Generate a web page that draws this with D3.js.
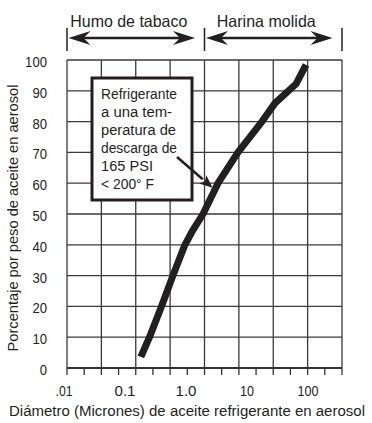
<!DOCTYPE html>
<html>
<head>
<meta charset="utf-8">
<script src="https://cdn.jsdelivr.net/npm/d3@7"></script>
<style>
  html, body { margin: 0; padding: 0; background: #fff; }
  svg { display: block; }
  text { font-family: "Liberation Sans", Arial, sans-serif; fill: #231f20; }
</style>
</head>
<body>
<svg id="chart" width="372" height="423"></svg>
<script>
// ---- data ----
const diameters = [0.182, 0.252, 0.396, 0.61, 0.96, 1.30, 1.90, 3.35, 7.1, 17.6, 28.8, 63.5, 92.7];
const percents  = [3.6, 10, 20, 30, 40, 44.8, 50, 60, 70, 80, 86.0, 92.2, 98.4];
const xTickValues = [0.01, 0.1, 1, 10, 100];
const xTickLabels = [".01", "0.1", "1.0", "10", "100"];
const yTickValues = [0, 10, 20, 30, 40, 50, 60, 70, 80, 90, 100];
const gridDivisions = [0, 1, 2, 3, 4, 5, 6, 7, 8];
const minorTicks = d3.range(0, 8.01, 0.5);
const rangeLabels = ["Humo de tabaco", "Harina molida"];
const rangeFrom = [0, 4];
const rangeTo = [4, 8];
const noteLines = ["Refrigerante", "a una tem-", "peratura de", "descarga de", "165 PSI", "< 200° F"];
const noteAnchor = [3.05, 58.5]; // diameter, percent the note points to
const xTitle = "Diámetro (Micrones) de aceite refrigerante en aerosol";
const yTitle = "Porcentaje por peso de aceite en aerosol";

// ---- layout ----
const ink = "#231f20";
const plotL = 67, plotR = 342, plotT = 60, plotB = 368;
const svg = d3.select("#chart");

const gx = d3.scaleLinear().domain([0, 8]).range([plotL, plotR]);
const x = d3.scaleLog().domain([0.01, 100]).range([64, 308]);
const y = d3.scaleLinear().domain([0, 100]).range([plotB, plotT]);

// condensed look: squeeze text to a measured width
function fit(sel, w) {
  return sel.attr("textLength", w).attr("lengthAdjust", "spacingAndGlyphs");
}
// condensed look via a horizontal scale transform
function scaledText(str, size, width, tx, ty, rot) {
  const t = svg.append("text").attr("font-size", size).attr("text-anchor", "middle").text(str);
  const natural = t.node().getComputedTextLength();
  const s = width / natural;
  t.attr("transform", `translate(${tx},${ty})${rot ? ` rotate(${rot})` : ""} scale(${s},1)`);
  return t;
}

// grid
const grid = svg.append("g").attr("stroke", "#3a3a3a").attr("stroke-width", 1.3);
grid.selectAll("line.v").data(gridDivisions).join("line")
  .attr("class", "v")
  .attr("x1", d => gx(d)).attr("x2", d => gx(d))
  .attr("y1", plotT).attr("y2", plotB);
grid.selectAll("line.h").data(yTickValues.slice(1)).join("line")
  .attr("class", "h")
  .attr("x1", plotL).attr("x2", plotR)
  .attr("y1", d => y(d)).attr("y2", d => y(d));

// bottom axis line + ticks
svg.append("line").attr("x1", plotL).attr("x2", plotR).attr("y1", plotB).attr("y2", plotB)
  .attr("stroke", "#333").attr("stroke-width", 2);
svg.append("g").selectAll("line").data(minorTicks).join("line")
  .attr("x1", d => gx(d)).attr("x2", d => gx(d))
  .attr("y1", plotB).attr("y2", plotB + 7)
  .attr("stroke", "#333").attr("stroke-width", 1.3);

// y tick labels
svg.append("g").selectAll("text").data(yTickValues).join("text")
  .attr("x", 47).attr("y", d => y(d) + 7)
  .attr("text-anchor", "end").attr("font-size", 14.5)
  .each(function (d) { fit(d3.select(this), String(d).length * 7.3); })
  .text(d => d);

// x tick labels
svg.append("g").selectAll("text").data(xTickValues).join("text")
  .attr("x", d => x(d)).attr("y", 396)
  .attr("text-anchor", "middle").attr("font-size", 14)
  .each(function (d, i) { fit(d3.select(this), xTickLabels[i] === ".01" ? 17 : xTickLabels[i].length * 7); })
  .text((d, i) => xTickLabels[i]);

// axis titles
scaledText(xTitle, 15.5, 356, 187, 416, 0);
scaledText(yTitle, 14.5, 267, 18, 218, -90);

// curve
const pts = diameters.map((d, i) => [x(d), y(percents[i])]);
svg.append("path").attr("d", d3.line().curve(d3.curveLinear)(pts))
  .attr("fill", "none").attr("stroke", ink).attr("stroke-width", 7)
  .attr("stroke-linejoin", "round").attr("stroke-linecap", "butt");

// top range arrows
const arrowY = 38;
function arrowHead(tipX, dir) {
  const L = 22, H = 7, N = 15;
  return `M${tipX},${arrowY} L${tipX + dir * L},${arrowY - H} L${tipX + dir * N},${arrowY} L${tipX + dir * L},${arrowY + H} Z`;
}
const topG = svg.append("g");
gridDivisions.filter(d => d % 4 === 0).forEach(d => {
  topG.append("line").attr("x1", gx(d)).attr("x2", gx(d)).attr("y1", 28).attr("y2", 51)
    .attr("stroke", ink).attr("stroke-width", 1.5);
});
const labelWidths = [117, 99];
rangeLabels.forEach((lab, i) => {
  const x1 = gx(rangeFrom[i]) + 1.5, x2 = gx(rangeTo[i]) - 9.5;
  topG.append("line").attr("x1", x1 + 12).attr("x2", x2 - 12).attr("y1", arrowY).attr("y2", arrowY)
    .attr("stroke", ink).attr("stroke-width", 2.5);
  topG.append("path").attr("d", arrowHead(x1, 1)).attr("fill", ink);
  topG.append("path").attr("d", arrowHead(x2, -1)).attr("fill", ink);
  fit(topG.append("text").attr("x", (x1 + x2) / 2 - 3).attr("y", 27)
    .attr("text-anchor", "middle").attr("font-size", 16.5), labelWidths[i]).text(lab);
});

// annotation box
const box = { x: 92, y: 78, w: 100, h: 122 };
svg.append("rect").attr("x", box.x).attr("y", box.y).attr("width", box.w).attr("height", box.h)
  .attr("fill", "#fff").attr("stroke", ink).attr("stroke-width", 3);
const noteWidths = [76, 71, 75, 76, 52, 53];
svg.append("g").selectAll("text").data(noteLines).join("text")
  .attr("x", 101).attr("y", (d, i) => 99 + i * 18)
  .attr("font-size", 15.5)
  .each(function (d, i) { fit(d3.select(this), noteWidths[i]); })
  .text(d => d);

// pointer arrow
const tip = [x(noteAnchor[0]) - 3, y(noteAnchor[1])];
const start = [177, 157];
const ang = Math.atan2(tip[1] - start[1], tip[0] - start[0]);
const hl = 13, hw = 5.5;
const bx = tip[0] - hl * Math.cos(ang), by = tip[1] - hl * Math.sin(ang);
svg.append("line").attr("x1", start[0]).attr("y1", start[1]).attr("x2", bx).attr("y2", by)
  .attr("stroke", ink).attr("stroke-width", 2.5);
svg.append("path")
  .attr("d", `M${tip[0]},${tip[1]} L${bx - hw * Math.sin(ang)},${by + hw * Math.cos(ang)} L${bx + 3 * Math.cos(ang)},${by + 3 * Math.sin(ang)} L${bx + hw * Math.sin(ang)},${by - hw * Math.cos(ang)} Z`)
  .attr("fill", ink);
</script>
</body>
</html>
